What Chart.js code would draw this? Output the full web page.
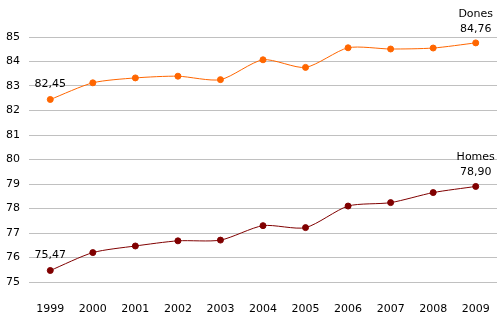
<!DOCTYPE html>
<html>
<head>
<meta charset="utf-8">
<script src="https://cdn.jsdelivr.net/npm/chart.js@4"></script>
<style>
  body { margin: 0; background: #fff; }
  #wrap { width: 504px; height: 325px; }
</style>
</head>
<body>
<div id="wrap"><canvas id="myChart"></canvas></div>
<script>
// Dades
const anys = ['1999', '2000', '2001', '2002', '2003', '2004', '2005', '2006', '2007', '2008', '2009'];
const dones = [82.45, 83.13, 83.33, 83.40, 83.26, 84.07, 83.76, 84.56, 84.51, 84.55, 84.76];
const homes = [75.47, 76.20, 76.47, 76.68, 76.71, 77.30, 77.22, 78.10, 78.24, 78.65, 78.90];
const yTicks = [75, 76, 77, 78, 79, 80, 81, 82, 83, 84, 85];

const fontFamily = '"DejaVu Sans", Verdana, sans-serif';

function fmt(v) {
    return v.toFixed(2).replace('.', ',');
}

// etiquetes al primer i a l'últim punt
const labelsPlugin = {
    id: 'pointLabels',
    afterDatasetsDraw(chart) {
        const ctx = chart.ctx;
        ctx.save();
        ctx.font = '11px ' + fontFamily;
        ctx.fillStyle = '#000';
        ctx.textBaseline = 'alphabetic';
        ctx.textAlign = 'center';
        chart.data.datasets.forEach((ds, i) => {
            const meta = chart.getDatasetMeta(i);
            const first = meta.data[0];
            const last = meta.data[meta.data.length - 1];
            // primer valor
            ctx.fillText(fmt(ds.data[0]), first.x, first.y - 12);
            // últim valor amb el nom
            ctx.fillText(fmt(ds.data[ds.data.length - 1]), last.x, last.y - 11);
            ctx.fillText(ds.label, last.x, last.y - 26);
        });
        ctx.restore();
    }
};

const ctx = document.getElementById('myChart').getContext('2d');

let chart = new Chart(ctx, {
    type: 'line',
    data: {
        labels: anys,
        datasets: [
            {
                label: 'Dones',
                data: dones,
                borderColor: '#ff6600',
                backgroundColor: '#ff6600',
                borderWidth: 1,
                pointRadius: 3,
                pointHoverRadius: 3,
                tension: 0.25
            },
            {
                label: 'Homes',
                data: homes,
                borderColor: '#800000',
                backgroundColor: '#800000',
                borderWidth: 1,
                pointRadius: 3,
                pointHoverRadius: 3,
                tension: 0.25
            }
        ]
    },
    options: {
        responsive: true,
        maintainAspectRatio: false,
        animation: false,
        layout: { padding: { top: 37, right: 7, left: 0, bottom: 0 } },
        plugins: {
            legend: { display: false },
            tooltip: { enabled: false }
        },
        scales: {
            x: {
                offset: true,
                grid: { display: false, drawTicks: false },
                border: { display: false },
                ticks: {
                    color: '#000',
                    padding: 21,
                    maxRotation: 0,
                    font: { family: fontFamily, size: 11 }
                },
                afterFit: (s) => {
                    s.height = 43;
                    s.paddingLeft = 0;
                    s.paddingRight = 0;
                }
            },
            y: {
                min: 75,
                max: 85,
                afterBuildTicks: (s) => { s.ticks = yTicks.map(v => ({ value: v })); },
                grid: { color: '#c0c0c0', lineWidth: 1, drawTicks: false },
                border: { display: false },
                ticks: {
                    color: '#000',
                    padding: 9,
                    font: { family: fontFamily, size: 11 }
                },
                afterFit: (s) => { s.width = 29; }
            }
        }
    },
    plugins: [labelsPlugin]
});
</script>
</body>
</html>
